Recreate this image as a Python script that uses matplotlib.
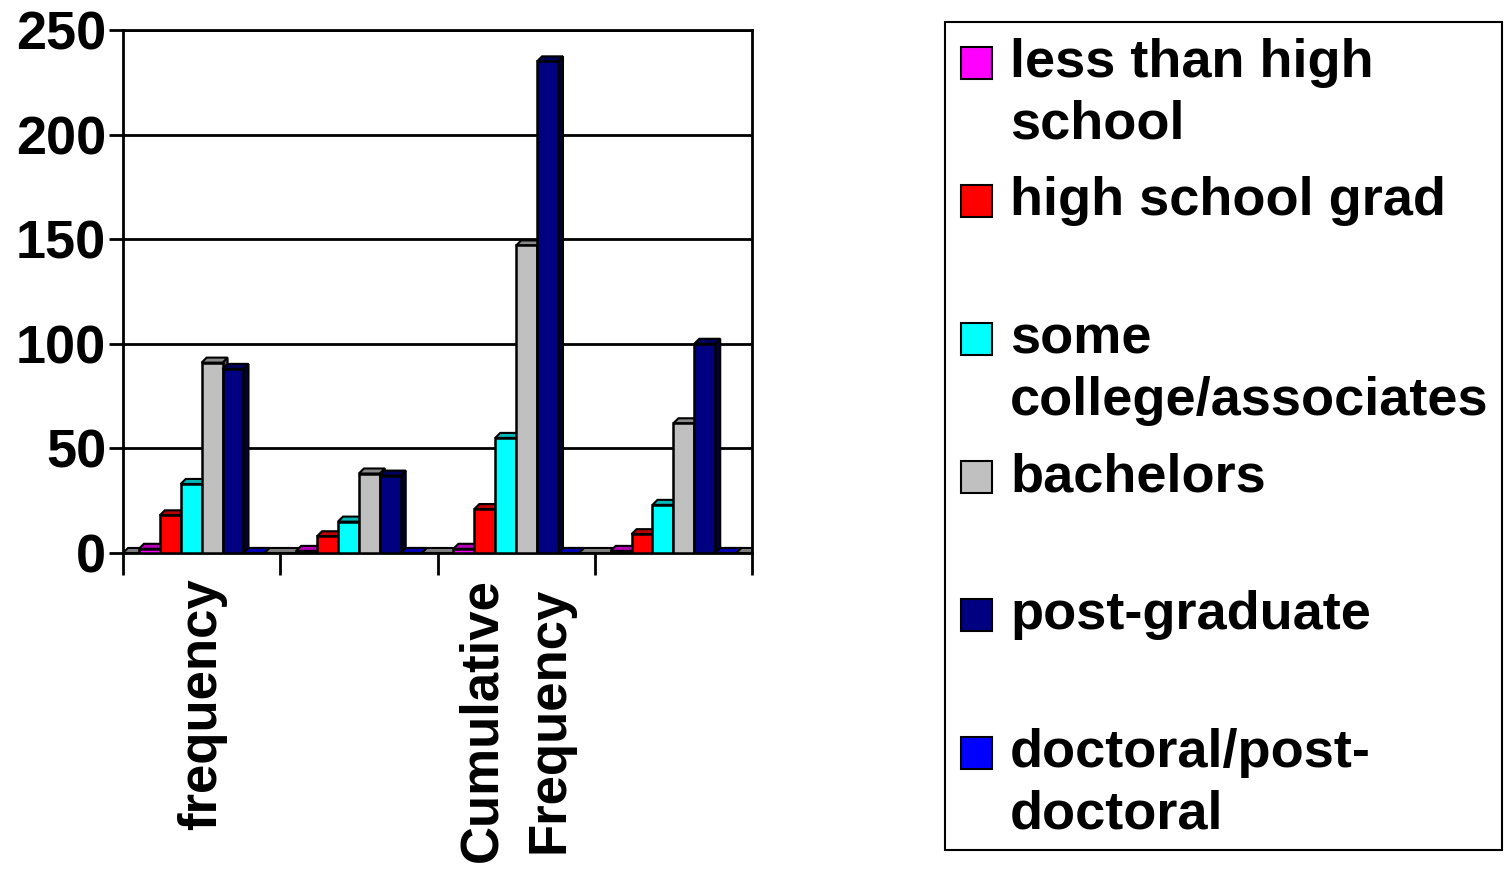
import matplotlib.pyplot as plt
from matplotlib.patches import Polygon, Rectangle
import numpy as np

plt.rcParams['font.family'] = ['Liberation Sans', 'DejaVu Sans']
plt.rcParams['font.weight'] = 'bold'

# data
groups = ['frequency', '', 'Cumulative\nFrequency', '']
series_names = ['less than high\nschool', 'high school grad', 'some\ncollege/associates',
                'bachelors', 'post-graduate', 'doctoral/post-\ndoctoral']
less_than_hs = [2, 1, 2, 1]
hs_grad = [18, 8, 21, 9]
some_college = [33, 15, 55, 23]
bachelors = [91, 38, 147, 62]
post_grad = [88, 37, 235, 100]
doctoral = [0, 0, 0, 0]
yticks = [0, 50, 100, 150, 200, 250]

series = [less_than_hs, hs_grad, some_college, bachelors, post_grad, doctoral]
colors = ['#FF00FF', '#FF0000', '#00FFFF', '#C0C0C0', '#000080', '#0000FF']


def shade(c, f):
    r, g, b = [int(c[i:i + 2], 16) / 255 for i in (1, 3, 5)]
    return (r * f, g * f, b * f)


fig = plt.figure(figsize=(15.07, 8.72), dpi=100)
ax = fig.add_axes([123 / 1507, 1 - 553 / 872, 629 / 1507, 523 / 872])

centers = np.arange(len(groups)) + 0.5
w = 0.133
dx = 0.032   # 3d depth in x (group units)
dy = 2.4     # 3d depth in y (data units)

# floor
ax.add_patch(Polygon([(0, 0), (4, 0), (4 + dx, dy), (dx, dy)], closed=True,
                     facecolor='#808080', edgecolor='black', lw=1.5, zorder=2))

for i, (vals, c) in enumerate(zip(series, colors)):
    z = 3 + i
    xs = centers + (i - 2.5) * w
    for x, h in zip(xs, vals):
        x0 = x - w / 2
        ax.add_patch(Polygon([(x0 + w, 0), (x0 + w + dx, dy), (x0 + w + dx, h + dy), (x0 + w, h)],
                             closed=True, facecolor=shade(c, 0.45), edgecolor='black', lw=1.5, zorder=z))
        ax.add_patch(Polygon([(x0, h), (x0 + w, h), (x0 + w + dx, h + dy), (x0 + dx, h + dy)],
                             closed=True, facecolor=shade(c, 0.72), edgecolor='black', lw=1.5, zorder=z))
    ax.bar(xs, vals, width=w, color=c, edgecolor='black', linewidth=1.8, zorder=z + 0.5)

ax.set_xlim(0, 4)
ax.set_ylim(0, 250)
ax.set_yticks(yticks)
ax.set_yticklabels([str(t) for t in yticks], fontsize=39, fontweight='bold')
ax.yaxis.grid(True, color='black', lw=2)
ax.set_axisbelow(True)
ax.tick_params(axis='y', direction='out', length=10, width=2, pad=2)

ax.set_xticks([0, 1, 2, 3, 4])
ax.set_xticklabels([])
ax.tick_params(axis='x', which='major', direction='out', length=16, width=2)
ax.set_xticks(centers, minor=True)
ax.set_xticklabels(groups, minor=True, rotation=90, fontsize=38, fontweight='bold',
                   va='top', ha='center', linespacing=1.45)
ax.tick_params(axis='x', which='minor', length=0, pad=18)

for s in ax.spines.values():
    s.set_linewidth(2)
    s.set_color('black')

# legend drawn by hand
fig.add_artist(Rectangle((945 / 1507, 1 - 850 / 872), 557 / 1507, 828 / 872,
                         transform=fig.transFigure, fill=False, edgecolor='black', lw=1.5))
for k, (name, c) in enumerate(zip(series_names, colors)):
    yc = 63 + 138 * k
    fig.add_artist(Rectangle((961 / 1507, 1 - (yc + 16) / 872), 31 / 1507, 32 / 872,
                             transform=fig.transFigure, facecolor=c, edgecolor='black', lw=1.5))
    fig.text(1010 / 1507, 1 - (yc - 25) / 872, name, fontsize=39, fontweight='bold',
             va='top', ha='left', linespacing=1.3)

fig.savefig('out.png', dpi=100)
